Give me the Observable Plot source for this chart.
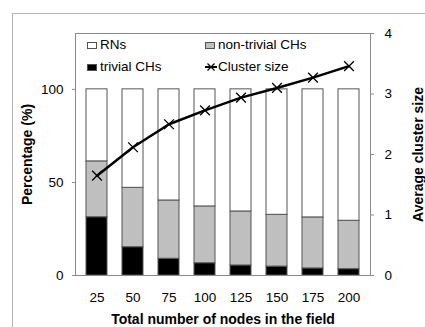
<!DOCTYPE html>
<html>
<head>
<meta charset="utf-8">
<script src="https://cdn.jsdelivr.net/npm/d3@7"></script>
<script src="https://cdn.jsdelivr.net/npm/@observablehq/plot@0.6"></script>
<style>
  body { margin: 0; background: #fff; font-family: "Liberation Sans", Arial, sans-serif; }
  #wrap { position: relative; width: 425px; height: 327px; overflow: hidden; background: #fff; }
  #frame { position: absolute; left: 12px; top: 13px; width: 600px; height: 600px; border: 1px solid #b4b4b4; }
  #chart { position: absolute; left: 0; top: 0; }
  #chart [aria-label$="axis label"] text { font-weight: bold; font-size: 14px; }
  .legend { position: absolute; font-size: 13.5px; color: #000; display: flex; align-items: center; white-space: nowrap; line-height: 14px; }
  .sw { display: inline-block; width: 8px; height: 5px; border: 1px solid #505050; margin-right: 3px; }
</style>
</head>
<body>
<div id="wrap">
  <div id="frame"></div>
  <div id="chart"></div>
</div>
<script>
// Network size (x categories)
const nodes = [25, 50, 75, 100, 125, 150, 175, 200];
// Share of nodes by role, in percent (stacked bottom to top)
const trivialCHs    = [31.3, 15.2,  9.0,  6.6,  5.4,  4.8,  3.8,  3.4];
const nonTrivialCHs = [30.0, 31.9, 31.3, 30.5, 29.0, 27.8, 27.4, 26.0];
const rns           = [38.7, 52.9, 59.7, 62.9, 65.6, 67.4, 68.8, 70.6];
// Average cluster size (right axis)
const clusterSize   = [1.65, 2.12, 2.50, 2.73, 2.94, 3.10, 3.27, 3.46];

const seriesNames = ["trivial CHs", "non-trivial CHs", "RNs"];
const seriesFill  = ["#000000", "#bfbfbf", "#ffffff"];
const leftTicks   = [0, 50, 100];
const rightTicks  = [0, 1, 2, 3, 4];

// Left axis runs 0–130 %, right axis 0–4; map cluster size onto the left scale.
const sizeToPct = d3.scaleLinear([0, 4], [0, 130]);

const bars = [];
nodes.forEach((n, i) => {
  bars.push({n, series: seriesNames[0], value: trivialCHs[i]});
  bars.push({n, series: seriesNames[1], value: nonTrivialCHs[i]});
  bars.push({n, series: seriesNames[2], value: rns[i]});
});
const sizes = nodes.map((n, i) => ({n, size: clusterSize[i], y: sizeToPct(clusterSize[i])}));

const chart = Plot.plot({
  width: 425,
  height: 327,
  marginLeft: 75,
  marginRight: 55,
  marginTop: 33,
  marginBottom: 52,
  style: {fontFamily: '"Liberation Sans", Arial, sans-serif', fontSize: "13.5px", color: "#000", background: "transparent"},
  x: {type: "band", domain: nodes, paddingInner: 0.43, paddingOuter: 0.215, label: null},
  y: {domain: [0, 130], label: null},
  color: {domain: seriesNames, range: seriesFill},
  marks: [
    Plot.barY(bars, {x: "n", y: "value", z: "series", order: seriesNames, fill: "series", stroke: "#555", strokeWidth: 1}),
    Plot.frame({stroke: "#8a8a8a"}),
    Plot.line(sizes, {x: "n", y: "y", stroke: "#000", strokeWidth: 2.5}),
    Plot.dot(sizes, {x: "n", y: "y", symbol: "times", r: 4.5, stroke: "#000", strokeWidth: 1.3}),
    Plot.axisX({tickSize: 0, tickPadding: 17, label: "Total number of nodes in the field", labelAnchor: "center", labelOffset: 48, labelArrow: "none"}),
    Plot.axisY({ticks: leftTicks, tickSize: 3, tickPadding: 9, stroke: "#8a8a8a", label: "Percentage (%)", labelAnchor: "center", labelOffset: 53, labelArrow: "none"}),
    Plot.axisY({anchor: "right", ticks: rightTicks.map(sizeToPct), tickFormat: d => d3.format("d")(sizeToPct.invert(d)), tickSize: 3, tickPadding: 11, stroke: "#8a8a8a", label: "Average cluster size", labelAnchor: "center", labelOffset: 52, labelArrow: "none"})
  ]
});
document.getElementById("chart").append(chart);

// Legend inside the plot area
const wrap = document.getElementById("wrap");
const legendItems = [
  {name: "RNs", kind: "box", fill: seriesFill[2], left: 87, top: 38},
  {name: "non-trivial CHs", kind: "box", fill: seriesFill[1], left: 205, top: 38},
  {name: "trivial CHs", kind: "box", fill: seriesFill[0], left: 87, top: 60},
  {name: "Cluster size", kind: "line", left: 205, top: 60}
];
legendItems.forEach(item => {
  const el = document.createElement("div");
  el.className = "legend";
  el.style.left = item.left + "px";
  el.style.top = item.top + "px";
  if (item.kind === "box") {
    const sw = document.createElement("span");
    sw.className = "sw";
    sw.style.background = item.fill;
    el.append(sw);
  } else {
    const svgNS = "http://www.w3.org/2000/svg";
    const s = document.createElementNS(svgNS, "svg");
    s.setAttribute("width", 13);
    s.setAttribute("height", 12);
    s.innerHTML = '<line x1="0" y1="6" x2="12" y2="6" stroke="#000" stroke-width="2"/>' +
                  '<path d="M2.5,2.5L9.5,9.5M9.5,2.5L2.5,9.5" stroke="#000" stroke-width="1.2"/>';
    el.append(s);
  }
  const t = document.createElement("span");
  t.textContent = item.name;
  el.append(t);
  wrap.append(el);
});
</script>
</body>
</html>
